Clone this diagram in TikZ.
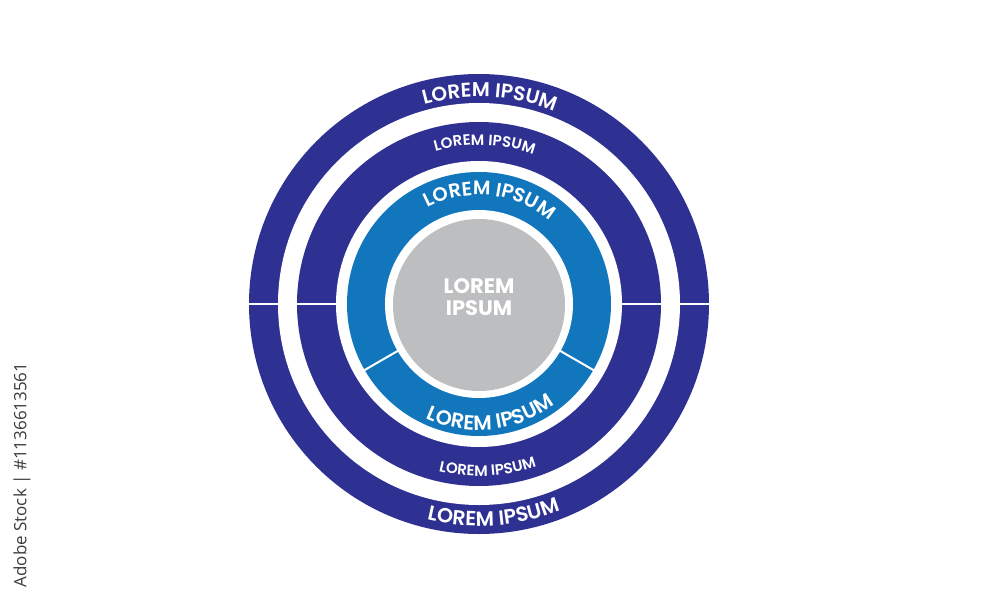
\documentclass[tikz,border=0pt]{standalone}
\usepackage{fontspec}
\IfFontExistsTF{Poppins SemiBold}{\newfontfamily\pop{Poppins SemiBold}}{\newfontfamily\pop{Poppins}[UprightFont=*-SemiBold, BoldFont=*-SemiBold]}
\newfontfamily\popb{Poppins}
\IfFontExistsTF{Open Sans SemiBold}{\newfontfamily\osans{Open Sans SemiBold}}{\newfontfamily\osans{Open Sans}}
\usetikzlibrary{decorations.text}
\definecolor{dkblue}{HTML}{2E3192}
\definecolor{ltblue}{HTML}{1176BC}
\definecolor{cgray}{HTML}{BCBEC0}
\definecolor{wmgray}{HTML}{3C3C3C}
\tikzset{
  sep/.style={white, line width=2pt},
  toptext/.style 2 args={decorate, decoration={text along path, text align=center, text color=white,
      text={|\pop\fontsize{#1}{#1}\selectfont|#2}}},
}
\begin{document}
\begin{tikzpicture}[x=1pt,y=1pt]
\useasboundingbox (-479,-296) rectangle (521,304);
\fill[white] (-479,-296) rectangle (521,304);
% rings
\fill[dkblue] (0,0) circle[radius=230pt];
\fill[white] (0,0) circle[radius=201pt];
\fill[dkblue] (0,0) circle[radius=182pt];
\fill[white] (0,0) circle[radius=143pt];
\fill[ltblue] (0,0) circle[radius=132pt];
\fill[white] (0,0) circle[radius=94pt];
\node[circle, fill=cgray, minimum size=172pt, inner sep=0pt] (core) at (0,-1) {};
% separators
\coordinate (l1) at (-231,0); \coordinate (l2) at (-143,0);
\coordinate (r1) at (231,0); \coordinate (r2) at (143,0);
\draw[sep] (l1) -- (l2);
\draw[sep] (r1) -- (r2);
\coordinate (a1) at (-30:93pt); \coordinate (a2) at (-30:133pt);
\coordinate (b1) at (-150:93pt); \coordinate (b2) at (-150:133pt);
\draw[sep] (a1) -- (a2);
\draw[sep] (b1) -- (b2);
% ring texts
\path[toptext={20}{LOREM IPSUM}] (147:207pt) arc[start angle=147, end angle=27, radius=207pt];
\path[toptext={15}{LOREM IPSUM}] (148:159pt) arc[start angle=148, end angle=28, radius=159pt];
\path[toptext={19.5}{LOREM IPSUM}] (174:109pt) arc[start angle=174, end angle=-6, radius=109pt];
\path[toptext={20.5}{LOREM IPSUM}] (186:126pt) arc[start angle=186, end angle=366, radius=126pt];
\path[toptext={15}{LOREM IPSUM}] (213:172pt) arc[start angle=213, end angle=333, radius=172pt];
\path[toptext={20.5}{LOREM IPSUM}] (214:222pt) arc[start angle=214, end angle=334, radius=222pt];
% centre text
\node[text=white, font=\popb\bfseries\fontsize{21}{22}\selectfont, align=center] (ctext) at (0,7) {LOREM\\IPSUM};
% watermark label
\node[rotate=90, text=wmgray, font=\osans\fontsize{17}{17}\selectfont] (wm) at (-457,-171) {Adobe Stock | \#1136613561};
\end{tikzpicture}
\end{document}
